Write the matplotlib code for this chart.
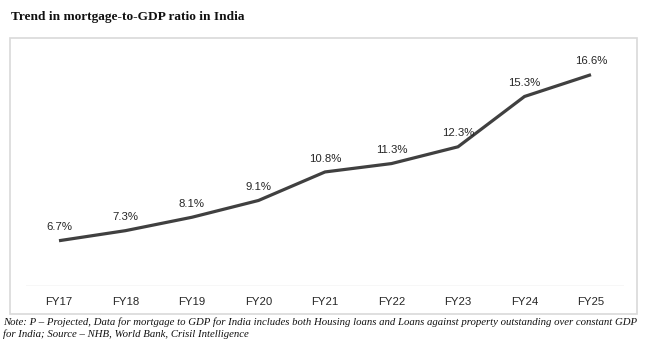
import matplotlib
matplotlib.use("Agg")
import matplotlib.pyplot as plt
from matplotlib.patches import Rectangle

categories = ["FY17", "FY18", "FY19", "FY20", "FY21", "FY22", "FY23", "FY24", "FY25"]
values = [6.7, 7.3, 8.1, 9.1, 10.8, 11.3, 12.3, 15.3, 16.6]
labels = [f"{v:.1f}%" for v in values]

W, H = 651, 352
fig = plt.figure(figsize=(W / 100, H / 100), dpi=100)
fig.patch.set_facecolor("white")

# outer box
fig.add_artist(Rectangle((10 / W, 1 - 314 / H), 627 / W, 276 / H, transform=fig.transFigure,
                         fill=False, edgecolor="#d9d9d9", linewidth=1.2))

ax = fig.add_axes([25.75 / W, 1 - 286 / H, 598.5 / W, 234.8 / H])
ax.set_xlim(-0.5, len(categories) - 0.5)
ax.set_ylim(4, 18)
x = list(range(len(categories)))
ax.plot(x, values, color="#404040", linewidth=2.3, solid_capstyle="butt", solid_joinstyle="miter")
for xi, v, lab in zip(x, values, labels):
    ax.annotate(lab, (xi, v), xytext=(0, 6), textcoords="offset points", ha="center", va="bottom",
                fontsize=8.2, family="Liberation Sans", color="#262626")
ax.axhline(4, color="#d9d9d9", linewidth=1.0)
for s in ax.spines.values():
    s.set_visible(False)
ax.set_yticks([])
ax.set_xticks(x)
ax.set_xticklabels(categories, family="Liberation Sans", fontsize=8.2, color="#262626")
ax.tick_params(axis="x", length=0, pad=8)
ax.patch.set_alpha(0)

fig.text(11 / W, 1 - 17 / H, "Trend in mortgage-to-GDP ratio in India", family="Liberation Serif",
         fontweight="bold", fontsize=9.6, va="center", ha="left", color="#111111")
fig.text(3 / W, 1 - 322 / H,
         "Note: P \u2013 Projected, Data for mortgage to GDP for India includes both Housing loans and Loans against property outstanding over constant GDP",
         family="Liberation Serif", style="italic", fontsize=7.72, va="center", ha="left", color="#111111")
fig.text(3 / W, 1 - 334 / H, "for India; Source \u2013 NHB, World Bank, Crisil Intelligence",
         family="Liberation Serif", style="italic", fontsize=7.72, va="center", ha="left", color="#111111")

fig.savefig("out.png", dpi=100)
